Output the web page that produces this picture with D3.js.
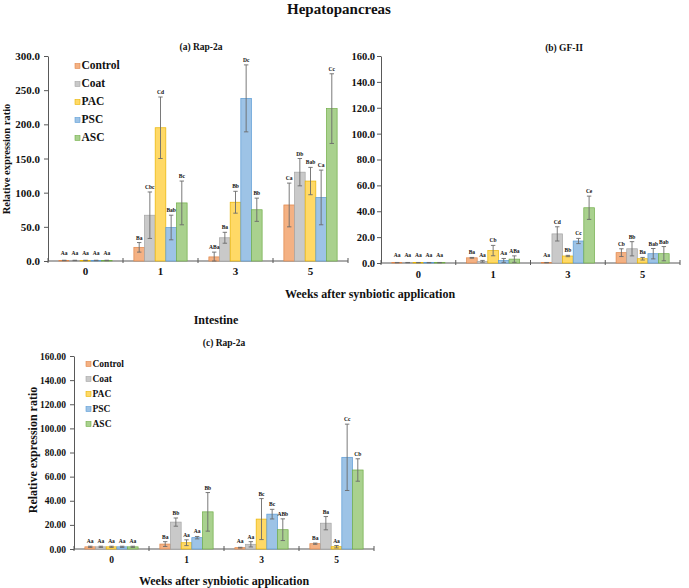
<!DOCTYPE html>
<html>
<head>
<meta charset="utf-8">
<script src="https://cdn.jsdelivr.net/npm/d3@7"></script>
<style>
  body { margin: 0; background: #ffffff; }
  svg text { font-family: "Liberation Serif", "Times New Roman", serif; font-weight: bold; fill: #111; }
</style>
</head>
<body>
<script>
const weeks = ["0", "1", "3", "5"];
const series = ["Control", "Coat", "PAC", "PSC", "ASC"];
const fills = ["#F4B183", "#C9C9C9", "#FFD966", "#9DC3E6", "#A9D18E"];
const strokes = ["#E0864A", "#A5A5A5", "#E8B400", "#5B9BD5", "#70AD47"];

// (a) Hepatopancreas Rap-2a  (rows = weeks, columns = series)
const rapHpMean = [[0.8, 0.8, 0.8, 0.8, 0.8], [20, 67, 195, 49, 85], [6, 34, 86, 238, 75], [82, 130, 117, 93, 223]];
const rapHpErr = [[0.3, 0.3, 0.3, 0.3, 0.3], [7, 34, 45, 18, 32], [7, 8, 16, 49, 17], [32, 20, 20, 40, 51]];
const rapHpLetters = [["Aa", "Aa", "Aa", "Aa", "Aa"], ["Ba", "Cbc", "Cd", "Bab", "Bc"], ["ABa", "Ba", "Bb", "Dc", "Bb"], ["Ca", "Db", "Bab", "Ca", "Cc"]];
const rapHpTicks = [0, 50, 100, 150, 200, 250, 300];

// (b) Hepatopancreas GF-II
const gf2Mean = [[0.3, 0.3, 0.3, 0.3, 0.3], [4, 1.3, 9.6, 2, 3], [0.3, 22.5, 5.4, 17, 42.7], [8, 11, 3.3, 7.2, 7.2]];
const gf2Err = [[0.1, 0.1, 0.1, 0.1, 0.1], [0.3, 0.7, 4, 1.5, 2.5], [0.1, 5.5, 0.5, 2, 9], [3, 5.5, 1, 4, 5.5]];
const gf2Letters = [["Aa", "Aa", "Aa", "Aa", "Aa"], ["Ba", "Aa", "Cb", "Aa", "ABa"], ["Aa", "Cd", "Bb", "Cc", "Ce"], ["Cb", "Bb", "Ba", "Bab", "Bab"]];
const gf2Ticks = [0, 20, 40, 60, 80, 100, 120, 140, 160];

// (c) Intestine Rap-2a
const rapIntMean = [[1.8, 1.8, 1.8, 1.8, 1.8], [4.1, 22.3, 5.2, 9.4, 30.8], [1.1, 3.9, 24.8, 28.9, 16], [4.4, 21.4, 1.9, 76, 65.5]];
const rapIntErr = [[0.5, 0.5, 0.5, 0.5, 0.5], [2, 3.4, 2.4, 1, 16], [0.3, 2.2, 17, 4, 9], [0.5, 5.5, 1, 27.5, 9.3]];
const rapIntLetters = [["Aa", "Aa", "Aa", "Aa", "Aa"], ["Ba", "Bb", "Aa", "Aa", "Bb"], ["Aa", "Aa", "Bc", "Bc", "ABb"], ["Ba", "Ba", "Aa", "Cc", "Cb"]];
const rapIntTicks = [0, 20, 40, 60, 80, 100, 120, 140, 160];

const svg = d3.select("body").append("svg").attr("width", 689).attr("height", 588)
  .attr("font-family", "Liberation Serif").attr("font-weight", "bold");
const axisColor = "#595959";

function panel(o) {
  const g = svg.append("g");
  const x = d3.scaleBand().domain(weeks).range([o.x0, o.x1]);
  const bw = x.bandwidth();
  const xs = d3.scaleBand().domain(series).range([bw * 0.145, bw * 0.855]);
  const y = d3.scaleLinear().domain([0, o.max]).range([o.y0, o.y1]);

  // y axis
  const ya = g.append("g").attr("transform", `translate(${o.x0},0)`)
    .call(d3.axisLeft(y).tickValues(o.ticks).tickFormat(d3.format(o.fmt)).tickSize(4).tickSizeOuter(0).tickPadding(o.tickPad));
  ya.attr("font-family", "Liberation Serif").attr("font-size", o.tickFont);
  ya.select(".domain").attr("stroke", axisColor);
  ya.selectAll(".tick line").attr("stroke", axisColor);
  ya.selectAll(".tick text").attr("font-size", o.tickFont).attr("font-weight", "bold").attr("fill", "#111");

  // x axis
  g.append("line").attr("x1", o.x0).attr("x2", o.x1).attr("y1", o.y0).attr("y2", o.y0).attr("stroke", axisColor);
  const bounds = [o.x0].concat(weeks.map(w => x(w) + bw));
  g.selectAll(".xt").data(bounds).join("line")
    .attr("x1", d => d).attr("x2", d => d).attr("y1", o.y0 - 3).attr("y2", o.y0 + 2).attr("stroke", axisColor);
  g.selectAll(".xl").data(weeks).join("text")
    .attr("x", d => x(d) + bw / 2).attr("y", o.y0 + o.catDy).attr("text-anchor", "middle")
    .attr("font-size", o.tickFont).text(d => d);

  const rows = weeks.flatMap((w, i) => series.map((s, j) => ({ w, s, j, v: o.mean[i][j], e: o.err[i][j], l: o.letters[i][j] })));

  g.selectAll(".bar").data(rows).join("rect")
    .attr("x", d => x(d.w) + xs(d.s)).attr("width", xs.bandwidth())
    .attr("y", d => y(d.v)).attr("height", d => o.y0 - y(d.v))
    .attr("fill", d => fills[d.j]).attr("stroke", d => strokes[d.j]).attr("stroke-width", 0.7);

  const eg = g.selectAll(".err").data(rows).join("g").attr("stroke", "#6b6b6b").attr("stroke-width", 0.9);
  const cx = d => x(d.w) + xs(d.s) + xs.bandwidth() / 2;
  eg.append("line").attr("x1", cx).attr("x2", cx).attr("y1", d => y(d.v + d.e)).attr("y2", d => y(Math.max(0, d.v - d.e)));
  eg.append("line").attr("x1", d => cx(d) - 2.2).attr("x2", d => cx(d) + 2.2).attr("y1", d => y(d.v + d.e)).attr("y2", d => y(d.v + d.e));
  eg.append("line").attr("x1", d => cx(d) - 2.2).attr("x2", d => cx(d) + 2.2).attr("y1", d => y(Math.max(0, d.v - d.e))).attr("y2", d => y(Math.max(0, d.v - d.e)));

  g.selectAll(".lab").data(rows).join("text")
    .attr("x", cx).attr("y", d => Math.min(y(d.v + d.e) - 3, o.y0 - 6))
    .attr("text-anchor", "middle").attr("font-size", 5.5).text(d => d.l);

  // panel title
  g.append("text").attr("x", o.titleX).attr("y", o.titleY).attr("text-anchor", "middle")
    .attr("font-size", 9.5).text(o.title);

  // legend
  if (o.legend) {
    const L = o.legend;
    const lg = g.selectAll(".lg").data(series).join("g")
      .attr("transform", (d, i) => `translate(${L.x},${L.y + i * L.dy})`);
    lg.append("rect").attr("x", 0).attr("y", -L.sq + 0.5).attr("width", L.sq).attr("height", L.sq)
      .attr("fill", (d, i) => fills[i]).attr("stroke", (d, i) => strokes[i]).attr("stroke-width", 0.6);
    lg.append("text").attr("x", L.sq + 1.5).attr("y", 1)
      .attr("font-size", L.font).text(d => d);
  }

  // y title
  if (o.yTitle) {
    g.append("text").attr("transform", `translate(${o.yTitle.x},${o.yTitle.y}) rotate(-90)`)
      .attr("text-anchor", "middle").attr("font-size", o.yTitle.font).text("Relative expression ratio");
  }
}

panel({
  x0: 48, x1: 348, y0: 261, y1: 56, max: 300, ticks: rapHpTicks, fmt: ".1f", tickFont: 11, tickPad: 4, catDy: 14,
  mean: rapHpMean, err: rapHpErr, letters: rapHpLetters,
  title: "(a) Rap-2a", titleX: 201, titleY: 50,
  legend: { x: 75, y: 68, dy: 18, sq: 5, font: 11.5 },
  yTitle: { x: 10, y: 159, font: 10.5 }
});

panel({
  x0: 381, x1: 680, y0: 263, y1: 56, max: 160, ticks: gf2Ticks, fmt: ".1f", tickFont: 10.5, tickPad: 2, catDy: 15,
  mean: gf2Mean, err: gf2Err, letters: gf2Letters,
  title: "(b) GF-II", titleX: 564, titleY: 51
});

panel({
  x0: 74, x1: 374, y0: 549, y1: 356, max: 160, ticks: rapIntTicks, fmt: ".2f", tickFont: 9.5, tickPad: 4, catDy: 14,
  mean: rapIntMean, err: rapIntErr, letters: rapIntLetters,
  title: "(c) Rap-2a", titleX: 224, titleY: 346,
  legend: { x: 86, y: 366, dy: 15, sq: 5, font: 9.5 },
  yTitle: { x: 37, y: 450, font: 12 }
});

// overall titles
svg.append("text").attr("x", 339).attr("y", 14).attr("text-anchor", "middle").attr("font-size", 15).text("Hepatopancreas");
svg.append("text").attr("x", 370).attr("y", 298).attr("text-anchor", "middle").attr("font-size", 12).text("Weeks after synbiotic application");
svg.append("text").attr("x", 216).attr("y", 324).attr("text-anchor", "middle").attr("font-size", 12).text("Intestine");
svg.append("text").attr("x", 224).attr("y", 585).attr("text-anchor", "middle").attr("font-size", 12).text("Weeks after synbiotic application");
</script>
</body>
</html>
